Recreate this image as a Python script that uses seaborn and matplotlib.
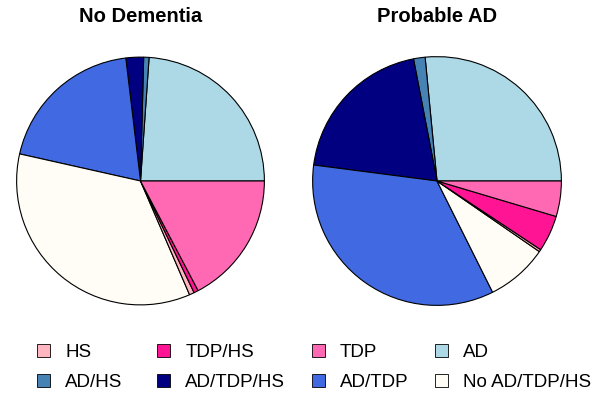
import numpy as np
import matplotlib
matplotlib.use("Agg")
import matplotlib.pyplot as plt
from matplotlib.patches import Patch
import seaborn as sns

sns.set_style("white")
plt.rcParams['font.family'] = ['Liberation Sans', 'DejaVu Sans']
plt.rcParams['text.color'] = 'black'

# slice order as drawn (counterclockwise from 3 o'clock)
groups = ["AD", "AD/HS", "AD/TDP/HS", "AD/TDP", "No AD/TDP/HS", "HS", "TDP/HS", "TDP"]
colors = {
    "HS": "#FFB6C1", "TDP/HS": "#FF1493", "TDP": "#FF69B4", "AD": "#ADD8E6",
    "AD/HS": "#4682B4", "AD/TDP/HS": "#000080", "AD/TDP": "#4169E1",
    "No AD/TDP/HS": "#FFFDF5",
}

# percentages
no_dementia = [23.9, 0.7, 2.3, 19.6, 35.0, 0.64, 0.58, 17.3]
probable_ad = [26.5, 1.5, 19.9, 34.4, 8.0, 0.3, 4.7, 4.6]

titles = ["No Dementia", "Probable AD"]

# legend layout: one list per legend column
legend_cols = [["HS", "AD/HS"], ["TDP/HS", "AD/TDP/HS"], ["TDP", "AD/TDP"], ["AD", "No AD/TDP/HS"]]

fig = plt.figure(figsize=(6, 4), dpi=100)
W, H = 600, 400

# (center x, center y from top, radius) in pixels
pie_boxes = [(140.5, 181, 124.5), (437, 181, 125)]

for (cx, cy, r), vals, title in zip(pie_boxes, [no_dementia, probable_ad], titles):
    ax = fig.add_axes([(cx - r) / W, (H - cy - r) / H, 2 * r / W, 2 * r / H])
    ax.pie(vals, colors=[colors[g] for g in groups], startangle=0,
           counterclock=True, radius=1,
           wedgeprops=dict(edgecolor="black", linewidth=0.8))
    ax.set_xlim(-1.005, 1.005)
    ax.set_ylim(-1.005, 1.005)
    ax.set_aspect("equal")
    ax.axis("off")
    fig.text(cx / W, 1 - 17 / H, title, ha="center", va="center",
             fontsize=14.5, fontweight="bold", color="black")

col_x = [37.3, 157, 311.7, 435]
for x, col in zip(col_x, legend_cols):
    handles = [Patch(facecolor=colors[g], edgecolor="black", linewidth=0.6) for g in col]
    fig.legend(handles=handles, labels=col, loc="center left",
               bbox_to_anchor=(x / W, 1 - 367.5 / H), frameon=False,
               fontsize=13.5, handlelength=0.7, handleheight=0.65,
               handletextpad=0.8, labelspacing=0.69, borderpad=0,
               borderaxespad=0, labelcolor="black")

fig.savefig("out.png", dpi=100)
